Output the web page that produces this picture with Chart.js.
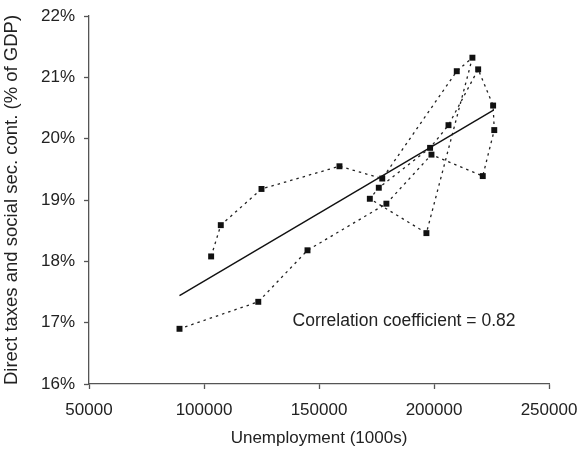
<!DOCTYPE html>
<html lang="en">
<head>
    <meta charset="UTF-8">
    <title>Unemployment vs direct taxes</title>
    <script src="https://cdn.jsdelivr.net/npm/chart.js"></script>
    <style>
        html, body { margin: 0; padding: 0; background: #ffffff; }
        #wrap { width: 578px; height: 449px; }
    </style>
</head>
<body>
    <div id="wrap"><canvas id="chart" width="578" height="449"></canvas></div>

    <script>
        // yearly observations, in the order they are joined by the dotted line
        const unemployment = [103100, 107300, 125000, 158900, 177500, 209900, 216700, 196700, 172100, 176000,
                              198300, 206300, 219200, 225700, 226200, 221200, 198900, 179300, 145000, 123600, 89350];
        const taxShare = [18.08, 18.59, 19.18, 19.55, 19.35, 21.10, 21.32, 18.46, 19.02, 19.20,
                          19.85, 20.22, 21.13, 20.54, 20.14, 19.39, 19.74, 18.94, 18.18, 17.34, 16.90];

        // fitted line end points
        const trendX = [89350, 225700];
        const trendY = [17.44, 20.46];

        const xTicks = [50000, 100000, 150000, 200000, 250000];
        const yTicks = [16, 17, 18, 19, 20, 21, 22];
        const note = 'Correlation coefficient = 0.82';

        const FONT = '"Liberation Sans", Arial, sans-serif';
        const INK = '#222222';
        const AXIS = '#555555';

        const pathData = unemployment.map((u, i) => ({x: u, y: taxShare[i]}));
        const trendData = trendX.map((u, i) => ({x: u, y: trendY[i]}));

        const notePlugin = {
            id: 'note',
            afterDatasetsDraw(chart) {
                const ctx = chart.ctx;
                const xs = chart.scales.x, ys = chart.scales.y;
                ctx.save();
                ctx.font = '17.5px ' + FONT;
                ctx.fillStyle = INK;
                ctx.textAlign = 'left';
                ctx.textBaseline = 'middle';
                ctx.fillText(note, xs.getPixelForValue(138500), ys.getPixelForValue(17.03));
                ctx.restore();
            }
        };

        new Chart(document.getElementById('chart'), {
            type: 'scatter',
            data: {
                datasets: [
                    {
                        label: 'observations',
                        data: pathData,
                        showLine: true,
                        borderColor: INK,
                        borderWidth: 1.3,
                        borderDash: [2.5, 4],
                        pointStyle: 'rect',
                        pointRadius: 4.2,
                        pointBackgroundColor: '#111111',
                        pointBorderWidth: 0,
                        tension: 0
                    },
                    {
                        label: 'trend',
                        data: trendData,
                        showLine: true,
                        borderColor: '#111111',
                        borderWidth: 1.4,
                        pointRadius: 0
                    }
                ]
            },
            options: {
                responsive: false,
                animation: false,
                devicePixelRatio: 1,
                layout: {padding: {top: 16, right: 29, bottom: 0, left: 0}},
                plugins: {
                    legend: {display: false},
                    tooltip: {enabled: false}
                },
                scales: {
                    x: {
                        type: 'linear',
                        min: 50000,
                        max: 250000,
                        afterBuildTicks: s => { s.ticks = xTicks.map(v => ({value: v})); },
                        afterFit: s => { s.height = 65; s.paddingLeft = 0; s.paddingRight = 0; },
                        border: {color: AXIS, width: 1.3},
                        grid: {drawOnChartArea: false, tickLength: 5, color: AXIS, tickWidth: 1.3},
                        ticks: {
                            color: INK,
                            padding: 11,
                            maxRotation: 0,
                            font: {family: FONT, size: 17},
                            callback: v => String(v)
                        },
                        title: {
                            display: true,
                            text: 'Unemployment (1000s)',
                            color: INK,
                            padding: {top: 2, bottom: 0},
                            font: {family: FONT, size: 17}
                        }
                    },
                    y: {
                        type: 'linear',
                        min: 16,
                        max: 22,
                        afterBuildTicks: s => { s.ticks = yTicks.map(v => ({value: v})); },
                        afterFit: s => { s.width = 89; s.paddingTop = 0; s.paddingBottom = 0; },
                        border: {color: AXIS, width: 1.3},
                        grid: {drawOnChartArea: false, tickLength: 5, color: AXIS, tickWidth: 1.3},
                        ticks: {
                            color: INK,
                            padding: 9,
                            font: {family: FONT, size: 17},
                            callback: v => v + '%'
                        },
                        title: {
                            display: true,
                            text: 'Direct taxes and social sec. cont. (% of GDP)',
                            color: INK,
                            padding: {top: 1, bottom: 0},
                            font: {family: FONT, size: 18.5}
                        }
                    }
                }
            },
            plugins: [notePlugin]
        });
    </script>
</body>
</html>
